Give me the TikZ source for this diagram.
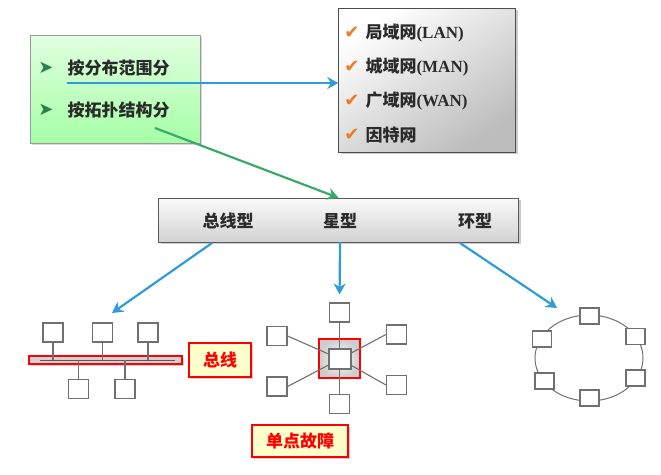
\documentclass[tikz,border=0pt]{standalone}
\usepackage{fontspec}
\setmainfont{Liberation Serif}
\newfontfamily\cjk{Noto Sans CJK SC}
\newfontfamily\symb{DejaVu Sans}
\usetikzlibrary{arrows.meta,shadows}
\definecolor{lineblue}{HTML}{2F9BD8}
\definecolor{linegreen}{HTML}{3AAA6A}
\definecolor{tickorange}{HTML}{F07820}
\definecolor{labelyellow}{HTML}{FFFFCC}
\definecolor{netgray}{HTML}{707070}
\definecolor{textgray}{HTML}{2A2A2A}
\newcommand\txtsize{\fontsize{17}{20}\selectfont}
\newcommand\marksize{\fontsize{18}{20}\selectfont}
\begin{document}
\begin{tikzpicture}[x=1pt, y=-1pt,
    blue arrow/.style={draw=lineblue, line width=2.2pt, -{Stealth[length=11pt,width=12pt]}},
    green arrow/.style={draw=linegreen, line width=2.2pt, -{Stealth[length=11pt,width=12pt]}},
    netbox/.style={draw=netgray, fill=white, line width=1.1pt, minimum width=20pt, minimum height=19pt, inner sep=0pt},
    ringbox/.style={netbox, minimum width=19pt, minimum height=16pt},
    redlabel/.style={draw=red, line width=2pt, fill=labelyellow, drop shadow={shadow xshift=2pt, shadow yshift=-2pt, opacity=0.4}, text=red, font=\cjk\bfseries\txtsize, inner sep=0pt},
    item/.style={anchor=west, text=textgray, font=\txtsize}]
    \useasboundingbox (0,0) rectangle (661,474);

    % left box and the two ways
    \node (ways) at (115.5,89) [draw=gray!80, top color=green!12, bottom color=green!35!white, minimum width=170pt, minimum height=108pt, drop shadow={shadow xshift=1.5pt, shadow yshift=-1.5pt, opacity=0.3}] {};
    \scoped{
        \tikzstyle{bullet}=[text=linegreen!75!black, font=\symb\marksize, inner sep=0pt];
        \node (bullet1) at (46,68) [bullet] {➤};
        \node (bullet2) at (46,110) [bullet] {➤};
    };
    \node (range) at (64,68) [item] {\cjk\bfseries 按分布范围分};
    \node (topo) at (64,110) [item] {\cjk\bfseries 按拓扑结构分};

    % kinds by range
    \node (wan) at (427,80) [draw=gray!60!black, top color=white, bottom color=gray!52, shading angle=35, minimum width=177pt, minimum height=144pt, drop shadow={shadow xshift=2pt, shadow yshift=-2pt, opacity=0.4}] {};
    \scoped{
        \tikzstyle{tick}=[text=tickorange, font=\symb\marksize, inner sep=0pt];
        \foreach \y/\cn/\en in {33/局域网/(LAN), 67/城域网/(MAN), 101/广域网/(WAN), 135/因特网/} {
            \node (tick\y) at (352,\y) [tick] {✔};
            \node (net\y) at (362,\y) [item] {{\cjk\bfseries\cn}{\bfseries\en}};
        }
    };

    % kinds by topology
    \node (bar) at (338.5,220) [draw=gray!70!black, top color=gray!4, bottom color=gray!35, minimum width=360pt, minimum height=44pt, drop shadow={shadow xshift=2pt, shadow yshift=-2pt, opacity=0.4}] {};
    \node (bustype) at (228,221) [text=textgray, font=\cjk\bfseries\txtsize] {总线型};
    \node (startype) at (340,221) [text=textgray, font=\cjk\bfseries\txtsize] {星型};
    \node (ringtype) at (475,221) [text=textgray, font=\cjk\bfseries\txtsize] {环型};

    \coordinate (r0) at (67,83);
    \draw[blue arrow] (r0) -- (r0 -| wan.west);
    \coordinate (t0) at (155,128);
    \draw[green arrow] (t0) -- (bar.north);

    % bus
    \node (busline) at (105.5,360) [draw=red, line width=1.8pt, fill=gray!35, minimum width=153pt, minimum height=8pt, inner sep=0pt, drop shadow={shadow xshift=2pt, shadow yshift=-2pt, opacity=0.35}] {};
    \draw[netgray!80!black, line width=1pt] (40,360) coordinate (bl) -- (175,360) coordinate (br);
    \foreach \name/\x/\y in {bt1/53/332.5, bt2/102.5/332.5, bt3/148/332.5, bb1/78.5/389, bb2/125/389} {
        \node (\name) at (\x,\y) [netbox] {};
        \draw[netgray, line width=1.1pt] (\name) -- (\name |- busline);
    }
    \node (buslabel) at (220,360) [redlabel, minimum width=62pt, minimum height=34pt] {总线};

    % star
    \node (hubframe) at (339.5,358.5) [draw=red, line width=1.8pt, inner color=white, outer color=gray!40, minimum width=41pt, minimum height=39pt, inner sep=0pt] {};
    \foreach \name/\x/\y in {stop/339.5/312.5, sbot/339.5/404, slu/277/336, sll/277/386.5, sru/396.5/334.5, srl/396.5/385}
        \node (\name) at (\x,\y) [netbox] {};
    \draw[netgray, line width=1.1pt] (stop) -- (sbot);
    \draw[netgray, line width=1.1pt] (slu.east) -- (340,359) coordinate (hubc);
    \draw[netgray, line width=1.1pt] (sll.east) -- (hubc);
    \draw[netgray, line width=1.1pt] (sru.west) -- (hubc);
    \draw[netgray, line width=1.1pt] (srl.west) -- (hubc);
    \node (hub) at (hubc) [netbox, minimum width=22pt, minimum height=20pt] {};
    \node (hublabel) at (300,441) [redlabel, minimum width=96pt, minimum height=32pt] {单点故障};

    % ring
    \draw[netgray, line width=1pt] (589,358) ellipse [x radius=54pt, y radius=43pt];
    \foreach \name/\x/\y in {rtop/589.5/316, rlu/542/339, rru/635.5/336.5, rll/544.5/381, rrl/635.5/378, rbot/589.5/398}
        \node (\name) at (\x,\y) [ringbox] {};

    % from the kinds down to the pictures
    \coordinate (k1) at (212,243);
    \coordinate (k1e) at (112,313);
    \draw[blue arrow] (k1) -- (k1e);
    \draw[blue arrow, shorten >=8pt] (bar.south -| startype) -- (stop.north);
    \coordinate (k3) at (460,243);
    \coordinate (k3e) at (557,308);
    \draw[blue arrow] (k3) -- (k3e);
\end{tikzpicture}
\end{document}
